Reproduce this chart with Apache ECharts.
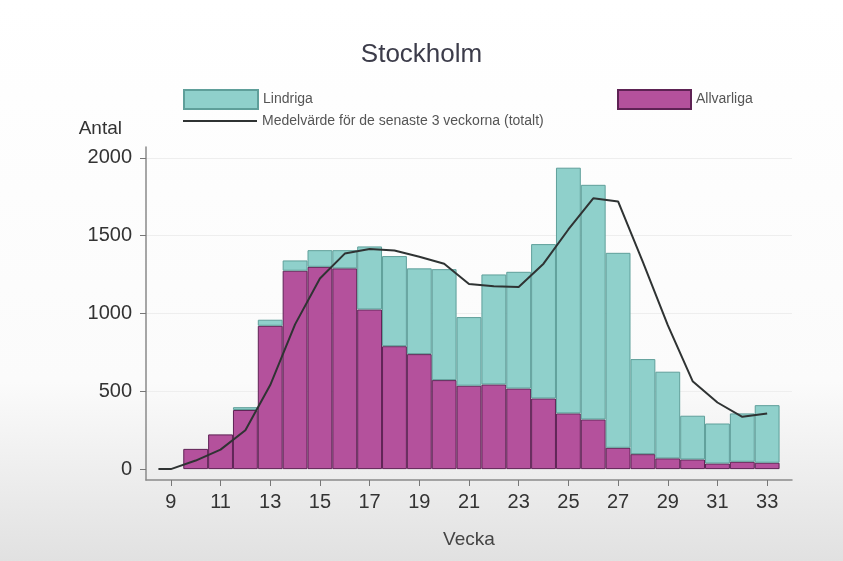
<!DOCTYPE html>
<html>
<head>
<meta charset="utf-8">
<script src="https://cdn.jsdelivr.net/npm/echarts@6/dist/echarts.min.js"></script>
<style>
html,body{margin:0;padding:0;background:#fff;}
#chart{width:843px;height:561px;}
</style>
</head>
<body>
<div id="chart"></div>
<script>
// Axis categories (weeks shown on the axis range)
const axisWeeks = [8,9,10,11,12,13,14,15,16,17,18,19,20,21,22,23,24,25,26,27,28,29,30,31,32,33,34];
// Week numbers that have bars
const weeks = [9,10,11,12,13,14,15,16,17,18,19,20,21,22,23,24,25,26,27,28,29,30,31,32,33];
// Allvarliga (purple, bottom of stack); null = no bar
const allvarliga = [null,130,223,380,921,1275,1300,1290,1026,790,739,572,536,544,518,454,358,319,137,96,69,62,36,47,41];
// Lindriga (teal, top of stack); null = no segment
const lindriga = [null,null,null,18,39,66,107,117,405,579,551,713,441,707,750,992,1579,1508,1253,611,557,281,257,311,370];
// Mean of the latest 3 weeks (total)
const lineWeeks = [8.5,9,10,11,12,13,14,15,16,17,18,19,20,21,22,23,24,25,26,27,28,29,30,31,32,33];
const lineValues = [0,0,55,125,250,540,930,1225,1385,1415,1405,1365,1320,1190,1175,1170,1320,1540,1740,1720,1330,925,565,428,336,358];
// Axis tick labels
const xTickLabels = [9,11,13,15,17,19,21,23,25,27,29,31,33];
const yTickLabels = [0,500,1000,1500,2000];

const FONT = '"Liberation Sans", Arial, sans-serif';
const gridLeft = 146, gridRight = 51, gridTop = 147, gridBottom = 81;
const barW = (843 - gridLeft - gridRight) / (axisWeeks.length - 1);
const showTick = (idx, val) => xTickLabels.indexOf(Number(val)) >= 0;

const chart = echarts.init(document.getElementById('chart'), null, {renderer: 'canvas'});
chart.setOption({
  animation: false,
  backgroundColor: {
    type: 'linear', x: 0, y: 0, x2: 0, y2: 1,
    colorStops: [
      {offset: 0, color: '#ffffff'},
      {offset: 0.68, color: '#fbfbfb'},
      {offset: 1, color: '#e1e1e1'}
    ]
  },
  title: {
    text: 'Stockholm',
    left: 'center',
    top: 37,
    textStyle: {fontFamily: FONT, fontSize: 26, fontWeight: 'normal', color: '#3c3c4a'}
  },
  legend: [
    {
      data: [{name: 'Lindriga', icon: 'rect'}], left: 178, top: 84, itemWidth: 74, itemHeight: 19,
      textStyle: {fontFamily: FONT, fontSize: 14, color: '#555'}
    },
    {
      data: [{name: 'Allvarliga', icon: 'rect'}], left: 612, top: 84, itemWidth: 73, itemHeight: 19,
      textStyle: {fontFamily: FONT, fontSize: 14, color: '#555'}
    },
    {
      data: [{name: 'Medelvärde för de senaste 3 veckorna (totalt)', icon: 'rect'}], left: 178, top: 109, itemWidth: 74, itemHeight: 2,
      itemStyle: {color: '#2f3333', borderWidth: 0},
      textStyle: {fontFamily: FONT, fontSize: 14, color: '#555'}
    }
  ],
  grid: {left: gridLeft, right: gridRight, top: gridTop, bottom: gridBottom, containLabel: false},
  xAxis: [
    {
      type: 'category',
      data: axisWeeks.map(String),
      boundaryGap: false,
      name: 'Vecka',
      nameLocation: 'middle',
      nameGap: 50,
      nameTextStyle: {fontFamily: FONT, fontSize: 19, color: '#444'},
      axisLine: {onZero: false, lineStyle: {color: '#8a8a8a', width: 1.5}},
      axisTick: {show: true, interval: showTick, length: 6, lineStyle: {color: '#777'}},
      axisLabel: {interval: showTick, fontFamily: FONT, fontSize: 20, color: '#333', margin: 12},
      splitLine: {show: false}
    },
    {
      type: 'value',
      min: axisWeeks[0], max: axisWeeks[axisWeeks.length - 1],
      show: false
    }
  ],
  yAxis: {
    type: 'value',
    min: -70, max: 2070,
    name: 'Antal',
    nameLocation: 'end',
    nameGap: 9,
    nameTextStyle: {fontFamily: FONT, fontSize: 19, color: '#333', align: 'right', padding: [0, 24, 0, 0]},
    axisLine: {show: true, lineStyle: {color: '#8a8a8a', width: 1.5}},
    axisTick: {show: true, customValues: yTickLabels, length: 6, lineStyle: {color: '#777'}},
    axisLabel: {customValues: yTickLabels, formatter: v => String(v), fontFamily: FONT, fontSize: 20, color: '#333', margin: 14},
    splitLine: {show: true, lineStyle: {color: '#eeeeee', width: 1}}
  },
  series: [
    {
      name: 'Allvarliga',
      type: 'bar',
      stack: 'total',
      xAxisIndex: 0,
      barWidth: barW,
      data: weeks.map((w, i) => [String(w), allvarliga[i]]),
      itemStyle: {color: '#b4519c', borderColor: '#5e2254', borderWidth: 1}
    },
    {
      name: 'Lindriga',
      type: 'bar',
      stack: 'total',
      xAxisIndex: 0,
      barWidth: barW,
      data: weeks.map((w, i) => [String(w), lindriga[i]]),
      itemStyle: {color: '#8fd0cb', borderColor: '#5f9f9a', borderWidth: 1}
    },
    {
      name: 'Medelvärde för de senaste 3 veckorna (totalt)',
      type: 'line',
      xAxisIndex: 1,
      symbol: 'none',
      data: lineWeeks.map((w, i) => [w, lineValues[i]]),
      lineStyle: {color: '#2f3333', width: 2},
      itemStyle: {color: '#2f3333'},
      z: 5
    }
  ]
});
</script>
</body>
</html>
